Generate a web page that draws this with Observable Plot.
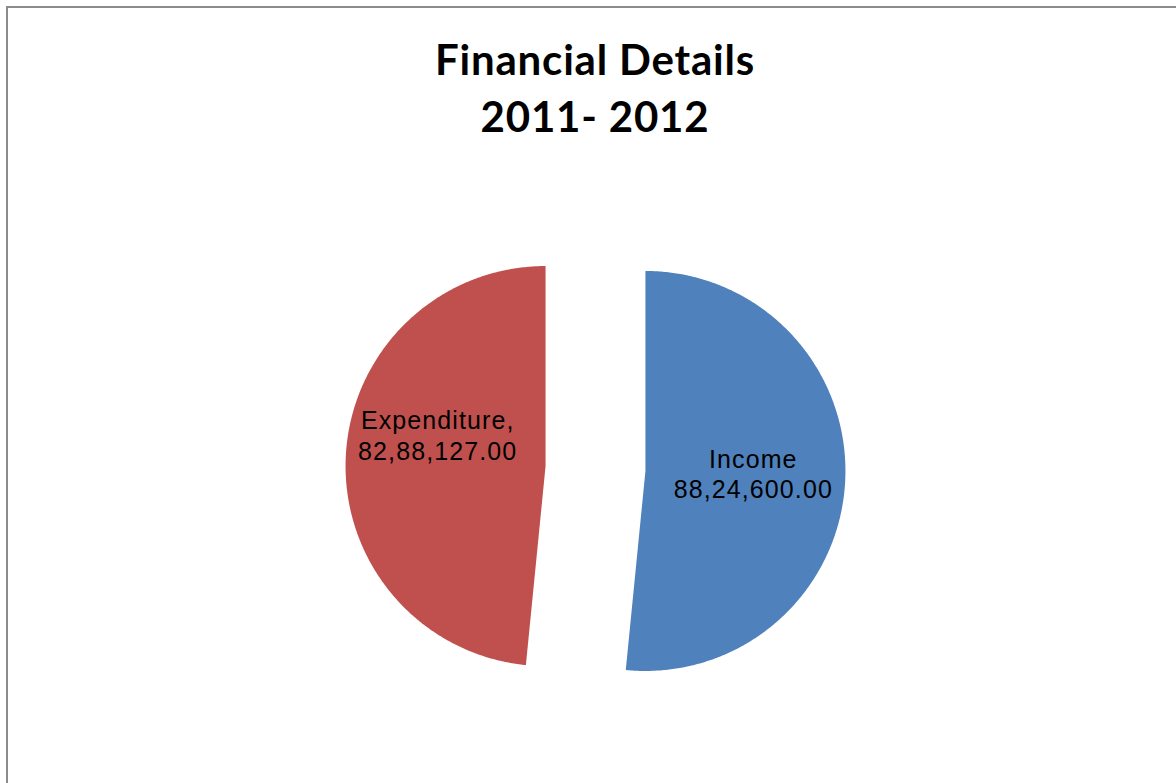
<!DOCTYPE html>
<html>
<head>
<meta charset="utf-8">
<script src="https://cdn.jsdelivr.net/npm/d3@7"></script>
<script src="https://cdn.jsdelivr.net/npm/@observablehq/plot@0.6"></script>
<style>
  html, body { margin: 0; padding: 0; background: #fff; }
  body { width: 1176px; height: 783px; overflow: hidden; position: relative; }
  #frame { position: absolute; left: 6px; top: 6px; width: 1300px; height: 900px;
           border: 2px solid #8c8c8c; box-sizing: border-box; pointer-events: none; }
  #title { position: relative; height: 160px; width: 1176px; text-align: center;
           font-family: Lato, "Open Sans", sans-serif; font-weight: bold; font-size: 42px;
           letter-spacing: 0.8px; color: #000; }
  #title div { position: absolute; left: 0; width: 1190px; }
  #chart svg text { letter-spacing: 1.1px; }
</style>
</head>
<body>
<div id="frame"></div>
<div id="title"><div style="top:34px">Financial Details</div><div style="top:91px">2011- 2012</div></div>
<div id="chart"></div>
<script>
const categories = ["Income", "Expenditure"];
const values = [8824600.00, 8288127.00];
const colors = ["#4F81BD", "#C0504D"];

function fmtIndian(v) {
  const [int, dec] = v.toFixed(2).split(".");
  const last3 = int.slice(-3);
  const rest = int.slice(0, -3).replace(/\B(?=(\d{2})+(?!\d))/g, ",");
  return (rest ? rest + "," : "") + last3 + "." + dec;
}

const W = 1176, H = 623;
const cx = 595, cy = 308;      // pie centre in svg pixels
const R = 200, explode = 50;

const data = categories.map((name, i) => ({ name, value: values[i] }));
const arcs = d3.pie().sort(null).value(d => d.value)(data);

const pts = [];
const labels = [];
for (const a of arcs) {
  const mid = (a.startAngle + a.endAngle) / 2;
  const ox = explode * Math.sin(mid), oy = -explode * Math.cos(mid);
  pts.push({ name: a.data.name, x: ox, y: oy });
  const n = Math.max(2, Math.ceil((a.endAngle - a.startAngle) / (Math.PI / 360)));
  for (let k = 0; k <= n; k++) {
    const t = a.startAngle + (a.endAngle - a.startAngle) * k / n;
    pts.push({ name: a.data.name, x: ox + R * Math.sin(t), y: oy - R * Math.cos(t) });
  }
  const lr = 0.54 * R;
  labels.push({
    name: a.data.name,
    x: ox + lr * Math.sin(mid),
    y: oy - lr * Math.cos(mid),
    text: a.data.name === "Income"
      ? a.data.name + "\n" + fmtIndian(a.data.value)
      : a.data.name + ",\n" + fmtIndian(a.data.value)
  });
}

const plot = Plot.plot({
  width: W, height: H,
  margin: 0,
  x: { domain: [-cx, W - cx], range: [0, W], axis: null },
  y: { domain: [-cy, H - cy], range: [0, H], axis: null },
  color: { domain: categories, range: colors },
  style: { background: "transparent", overflow: "visible" },
  marks: [
    Plot.line(pts, { x: "x", y: "y", z: "name", fill: "name", stroke: null, curve: "linear-closed" }),
    Plot.text(labels.filter(d => d.name === "Income"), {
      x: "x", y: "y", text: "text", fill: "#000",
      fontFamily: "Liberation Sans, Arial, sans-serif", fontSize: 25, lineHeight: 1.22, dy: -3
    }),
    Plot.text(labels.filter(d => d.name === "Expenditure"), {
      x: "x", y: "y", text: "text", fill: "#000",
      fontFamily: "Liberation Sans, Arial, sans-serif", fontSize: 25, lineHeight: 1.22, dy: -26
    })
  ]
});
document.getElementById("chart").appendChild(plot);
</script>
</body>
</html>
